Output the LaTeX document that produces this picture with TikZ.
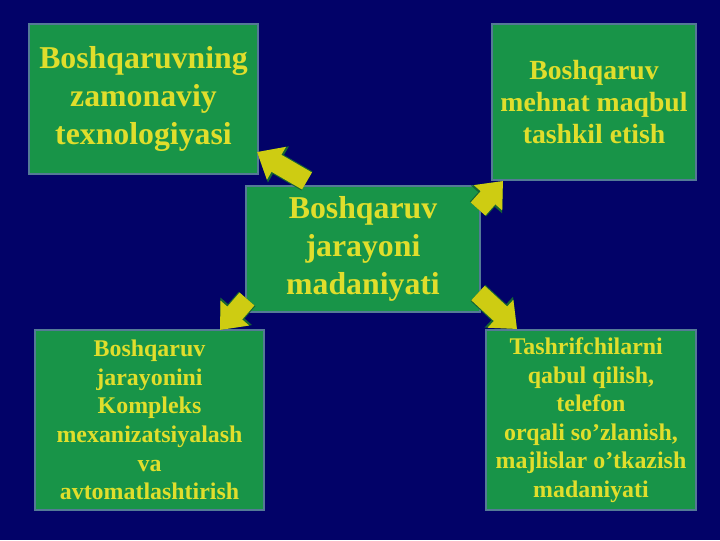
\documentclass[tikz,border=0pt]{standalone}
\usepackage{fontspec}
\setmainfont{Liberation Serif}
\usepackage{xcolor}
\usetikzlibrary{arrows.meta}
\pgfdeclarelayer{back}
\pgfsetlayers{back,main}

\begin{document}
\begin{tikzpicture}[x=0.025cm,y=-0.025cm]
    \definecolor{mynavy}{RGB}{2,2,104}
    \definecolor{mygreen}{RGB}{24,148,72}
    \definecolor{myedge}{RGB}{84,122,150}
    \definecolor{myyellow}{RGB}{224,222,44}
    \definecolor{myarrow}{RGB}{206,204,18}
    \definecolor{myarrowd}{RGB}{22,100,52}

    % kataklar va strelkalar
    \tikzstyle{format}=[rectangle,draw=myedge,line width=1.4pt,fill=mygreen,text=myyellow,align=center,inner sep=0pt]
    \tikzstyle{big}=[font=\fontsize{22.6pt}{27pt}\selectfont\bfseries]
    \tikzstyle{mid}=[font=\fontsize{19.7pt}{23pt}\selectfont\bfseries]
    \tikzstyle{small}=[font=\fontsize{17pt}{20.3pt}\selectfont\bfseries]
    \tikzstyle{block}=[draw=myarrow,line width=14pt,-{Triangle[length=16pt,width=26pt]},
        preaction={draw=myarrowd,line width=15.6pt,-{Triangle[length=17.6pt,width=28.6pt]}}]

    \useasboundingbox (0,0) rectangle (720,540);
    \begin{pgfonlayer}{back}
        \fill[mynavy] (0,0) rectangle (720,540);
    \end{pgfonlayer}

    % bloklar
    \node[format,big,minimum width=5.725cm,minimum height=3.75cm](lt) at (143.5,99){Boshqaruvning\\zamonaviy\\texnologiyasi};
    \node[format,mid,minimum width=5.1cm,minimum height=3.9cm](rt) at (594,102){Boshqaruv\\mehnat maqbul\\tashkil etish};
    \node[format,big,minimum width=5.85cm,minimum height=3.15cm](main) at (363,249){Boshqaruv\\jarayoni\\madaniyati};
    \node[format,small,minimum width=5.725cm,minimum height=4.5cm](lb) at (149.5,420){Boshqaruv\\jarayonini\\Kompleks\\mexanizatsiyalash\\va\\avtomatlashtirish};
    \node[format,small,minimum width=5.25cm,minimum height=4.5cm](rb) at (591,420){Tashrifchilarni\hspace*{0.4em}\\qabul qilish,\\telefon\\orqali so’zlanish,\\majlislar o’tkazish\\madaniyati};

    % strelkalar
    \draw[block]([shift={(62,-4)}]main.north west)--([shift={(-2,-23)}]lt.south east);
    \draw[block]([shift={(-3,24)}]main.north east)--([shift={(12,0)}]rt.south west);
    \draw[block]([shift={(2,-14)}]main.south west)--([shift={(-45,1)}]lb.north east);
    \draw[block]([shift={(-3,-20)}]main.south east)--([shift={(32,0)}]rb.north west);
\end{tikzpicture}
\end{document}
